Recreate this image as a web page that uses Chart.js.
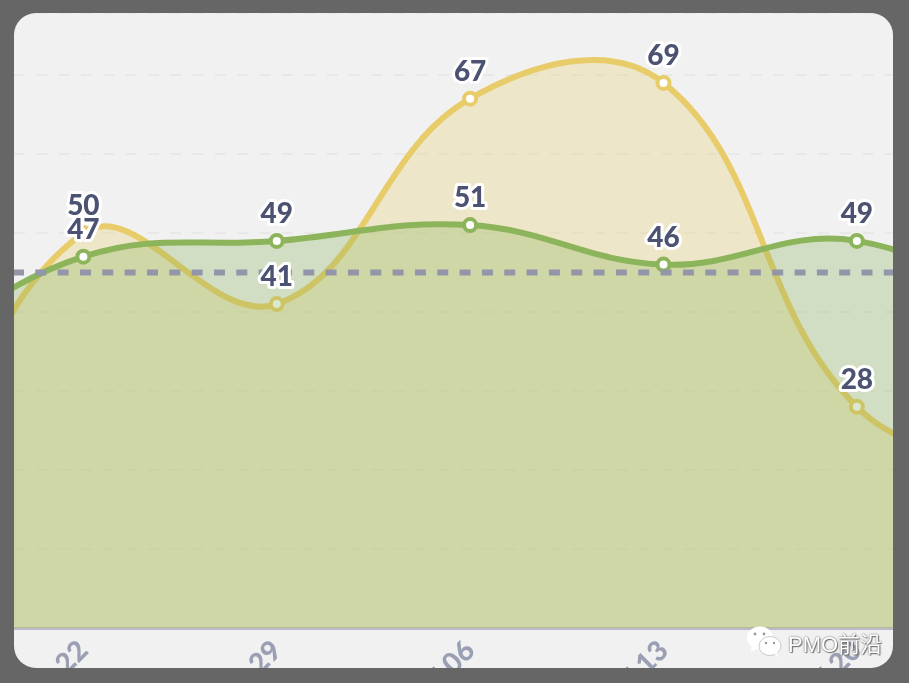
<!DOCTYPE html>
<html>
<head>
<meta charset="utf-8">
<style>
  html, body { margin: 0; padding: 0; background: #666; }
  body { width: 909px; height: 683px; position: relative; overflow: hidden; }
  #card {
    position: absolute; left: 14px; top: 13px; width: 879px; height: 655px;
    background: #f1f1f1; border-radius: 22px; overflow: hidden;
  }
  /* canvas is wider than the card: the first and last weeks sit off screen */
  #chart { position: absolute; left: -124px; top: 0; }
  #mark {
    position: absolute; left: 746px; top: 626px; height: 32px;
    display: flex; align-items: center; gap: 6px;
    color: #fff; font: 22px "Liberation Sans", "Noto Sans CJK SC", sans-serif;
    text-shadow: 0 0 2px #555, 1px 1px 1px #777;
  }
</style>
</head>
<body>
<div id="card"><canvas id="chart" width="1182" height="720"></canvas></div>
<div id="mark">
  <svg width="36" height="32" viewBox="0 0 36 32">
    <ellipse cx="14" cy="12" rx="13" ry="11.5" fill="#fff"/>
    <path d="M6 19 L5 26 L12 22 Z" fill="#fff"/>
    <ellipse cx="24" cy="20" rx="11" ry="9.5" fill="#fff" stroke="#aaa" stroke-width="0.6"/>
    <path d="M28 27 L32 31 L31 25 Z" fill="#fff"/>
    <circle cx="9" cy="8" r="1.4" fill="#999"/><circle cx="18" cy="8" r="1.4" fill="#999"/>
    <circle cx="20" cy="17" r="1.2" fill="#999"/><circle cx="28" cy="17" r="1.2" fill="#999"/>
  </svg>
  <span>PMO前沿</span>
</div>
<script src="https://cdn.jsdelivr.net/npm/chart.js@4"></script>
<script>
const weeks = ["", "06.22", "06.29", "07.06", "07.13", "07.20", ""];
const yellowValues = [6, 50, 41, 67, 69, 28, 20];
const greenValues = [33, 47, 49, 51, 46, 49, 38];
const averageValues = [45, 45, 45, 45, 45, 45, 45];

// values printed above the points, off screen weeks stay unlabelled
const pointLabels = {
  id: "pointLabels",
  afterDatasetsDraw(chart) {
    const ctx = chart.ctx;
    ctx.save();
    ctx.font = "900 28px Lato";
    ctx.textAlign = "center";
    ctx.textBaseline = "middle";
    ctx.lineJoin = "round";
    [2, 1].forEach((i) => {
      chart.getDatasetMeta(i).data.forEach((pt, idx) => {
        if (idx === 0 || idx === weeks.length - 1) return;
        const txt = String(chart.data.datasets[i].data[idx]);
        ctx.lineWidth = 6;
        ctx.strokeStyle = "#fff";
        ctx.strokeText(txt, pt.x, pt.y - 27);
        ctx.fillStyle = "#4b5272";
        ctx.fillText(txt, pt.x, pt.y - 27);
      });
    });
    ctx.restore();
  },
};

new Chart(document.getElementById("chart"), {
  type: "line",
  data: {
    labels: weeks,
    datasets: [
      {
        label: "Average",
        data: averageValues,
        borderColor: "#9395a8",
        borderWidth: 6,
        borderDash: [11, 11.33],
        borderDashOffset: 11,
        pointRadius: 0,
        fill: false,
        tension: 0,
      },
      {
        label: "Green",
        data: greenValues,
        borderColor: "#8cb45a",
        backgroundColor: "rgba(140, 180, 90, 0.3)",
        borderWidth: 6,
        pointRadius: 6,
        pointBorderWidth: 4,
        pointBackgroundColor: "#fff",
        pointBorderColor: "#8cb45a",
        fill: "origin",
        tension: 0.4,
      },
      {
        label: "Yellow",
        data: yellowValues,
        borderColor: "#e8cc6a",
        backgroundColor: "rgba(232, 204, 106, 0.3)",
        borderWidth: 6,
        pointRadius: 6,
        pointBorderWidth: 4,
        pointBackgroundColor: "#fff",
        pointBorderColor: "#e8cc6a",
        fill: "origin",
        tension: 0.4,
      },
    ],
  },
  options: {
    responsive: false,
    animation: false,
    layout: { padding: 0, autoPadding: false },
    plugins: { legend: { display: false }, tooltip: { enabled: false } },
    scales: {
      x: {
        afterFit: (s) => { s.height = 105; },
        grid: { display: false },
        border: { color: "#b9bbcb", width: 3 },
        ticks: {
          color: "#9a9fb3",
          font: { family: "Lato", weight: "900", size: 28 },
          minRotation: 45,
          maxRotation: 45,
          padding: -2,
          autoSkip: false,
        },
      },
      y: {
        min: 0,
        max: 77.85,
        afterFit: (s) => { s.width = 0; },
        ticks: { display: false, stepSize: 10 },
        border: { display: false, dash: [11, 11.33], dashOffset: 10 },
        grid: { color: "#e8e8e8", lineWidth: 2, tickLength: 0 },
      },
    },
    elements: { line: { borderJoinStyle: "round" } },
  },
  plugins: [pointLabels],
});
</script>
</body>
</html>
